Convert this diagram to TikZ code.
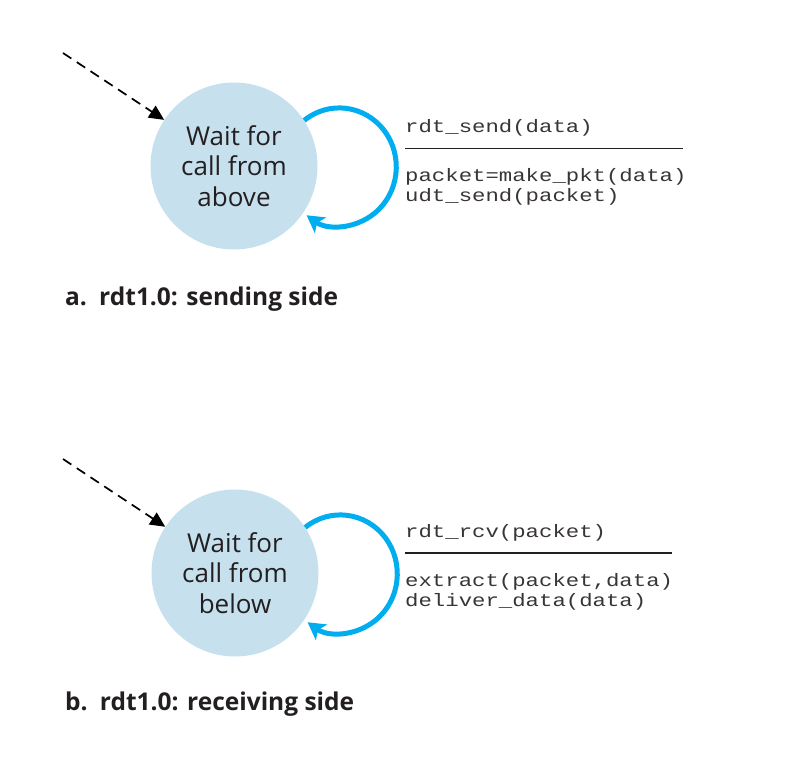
\documentclass[tikz,border=0pt]{standalone}
\usepackage{fontspec}
\setmainfont{Open Sans}
\newfontfamily\codefont[FakeStretch=1.24]{Liberation Mono}
\usetikzlibrary{arrows.meta}
\definecolor{statefill}{RGB}{199,224,238}
\definecolor{loopblue}{RGB}{0,174,239}
\definecolor{ink}{RGB}{35,31,32}
\tikzset{
  statenode/.style={circle, fill=statefill, minimum size=167pt, inner sep=0pt,
    align=center, text=ink, font=\fontsize{26}{30.5}\selectfont},
  initarrow/.style={draw=black, line width=1.7pt, dash pattern=on 10pt off 6.5pt,
    -{Triangle[length=15pt,width=14pt]}},
  selfloop/.style={draw=loopblue, line width=5pt,
    -{Stealth[length=17pt,width=19pt,inset=4pt]}},
  codetext/.style={anchor=base west, inner sep=0pt, text=ink!90,
    font=\codefont\fontsize{18}{20}\selectfont},
  rule/.style={draw=ink, line width=1.9pt},
  caption/.style={anchor=base west, inner sep=0pt, text=ink,
    font=\bfseries\fontsize{24.5}{28}\selectfont}
}
\begin{document}
\begin{tikzpicture}[x=1pt,y=-1pt]
\useasboundingbox (0,0) rectangle (803,766);
% ---------- sending side ----------
\node[statenode] (s1) at (234,166) {Wait for\\call from\\above};
\coordinate (i1) at (63,53);
\draw[initarrow] (i1) -- (s1);
\draw[selfloop] (s1.33) arc[start angle=-128, end angle=125, x radius=57, y radius=59];
\node[codetext] (e1) at (405,132.5) {rdt\_send(data)};
\coordinate (l1a) at (405,148.5);
\coordinate (l1b) at (683,148.5);
\draw[rule] (l1a) -- (l1b);
\node[codetext] (a1) at (405,181.5) {packet=make\_pkt(data)};
\node[codetext] (a2) at (405,201.5) {udt\_send(packet)};
\node[caption] (c1) at (65,305) {a.\hspace{0.5em}rdt1.0: sending side};
% ---------- receiving side ----------
\node[statenode] (s2) at (235,573) {Wait for\\call from\\below};
\coordinate (i2) at (63,459);
\draw[initarrow] (i2) -- (s2);
\draw[selfloop] (s2.33) arc[start angle=-128, end angle=125, x radius=57, y radius=59];
\node[codetext] (e2) at (405,537.5) {rdt\_rcv(packet)};
\coordinate (l2a) at (405,553);
\coordinate (l2b) at (672,553);
\draw[rule] (l2a) -- (l2b);
\node[codetext] (b1) at (405,586.5) {extract(packet,data)};
\node[codetext] (b2) at (405,606.5) {deliver\_data(data)};
\node[caption] (c2) at (65,710) {b.\hspace{0.5em}rdt1.0: receiving side};
\end{tikzpicture}
\end{document}
